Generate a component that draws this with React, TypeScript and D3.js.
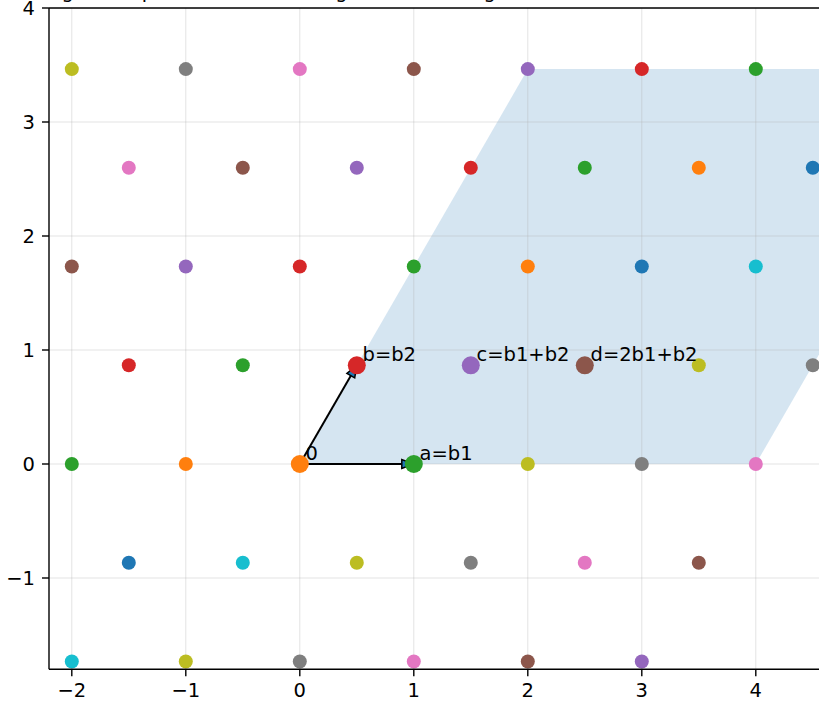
import React from "react";
import { scaleLinear } from "d3";

const tab10 = ["#1f77b4", "#ff7f0e", "#2ca02c", "#d62728", "#9467bd", "#8c564b", "#e377c2", "#7f7f7f", "#bcbd22", "#17becf"];

// lattice basis
const b1 = [1, 0];
const b2 = [0.5, Math.sqrt(3) / 2];

// background lattice points (integer coords in b1, b2) and colour index
const latticeI = [
  -1, 0, 1, 2, 3, 4,
  -1, 0, 1, 2, 3, 4,
  -2, -1, 2, 3, 4,
  -2, -1, 3, 4,
  -3, -2, -1, 0, 1, 2, 3,
  -3, -2, -1, 0, 1, 2, 3,
  -4, -3, -2, -1, 0, 1, 2,
];
const latticeJ = [
  -2, -2, -2, -2, -2, -2,
  -1, -1, -1, -1, -1, -1,
  0, 0, 0, 0, 0,
  1, 1, 1, 1,
  2, 2, 2, 2, 2, 2, 2,
  3, 3, 3, 3, 3, 3, 3,
  4, 4, 4, 4, 4, 4, 4,
];
const pointColor = [
  9, 8, 7, 6, 5, 4,
  0, 9, 8, 7, 6, 5,
  2, 1, 8, 7, 6,
  3, 2, 8, 7,
  5, 4, 3, 2, 1, 0, 9,
  6, 5, 4, 3, 2, 1, 0,
  8, 7, 6, 5, 4, 3, 2,
];

// highlighted points
const specialNames = ["0", "a=b1", "b=b2", "c=b1+b2", "d=2b1+b2"];
const specialI = [0, 1, 0, 1, 2];
const specialJ = [0, 0, 1, 1, 1];
const specialColor = [1, 2, 3, 4, 5];

// shaded cell corners (in b1, b2 coords)
const cellI = [0, 4, 4, 0];
const cellJ = [0, 0, 4, 4];

const xTicks = [-2, -1, 0, 1, 2, 3, 4];
const yTicks = [-1, 0, 1, 2, 3, 4];

const toXY = (i: number, j: number) => [i * b1[0] + j * b2[0], i * b1[1] + j * b2[1]];

const fmt = (v: number) => (v < 0 ? "\u2212" + Math.abs(v) : String(v));

export default function App() {
  const W = 819, H = 705;
  const left = 49, top = 8;
  const unit = 114;
  const x = scaleLinear().domain([-2.2, 6.2]).range([left, left + 8.4 * unit]);
  const y = scaleLinear().domain([-1.8, 4]).range([top + 5.8 * unit, top]);
  const bottom = y(-1.8);
  const right = x(6.2);
  const font = "'DejaVu Sans', sans-serif";
  const fs = 19.5;

  const cellPts = cellI.map((ci, k) => toXY(ci, cellJ[k])).map(([a, b]) => `${x(a)},${y(b)}`).join(" ");

  const arrow = (tx: number, ty: number, key: string) => {
    const x0 = x(0), y0 = y(0), x1 = x(tx), y1 = y(ty);
    const dx = x1 - x0, dy = y1 - y0;
    const len = Math.hypot(dx, dy);
    const ux = dx / len, uy = dy / len;
    const headLen = 12, headW = 4.5;
    const bx = x1 - ux * headLen, by = y1 - uy * headLen;
    const px = -uy, py = ux;
    const head = `${x1},${y1} ${bx + px * headW},${by + py * headW} ${bx - px * headW},${by - py * headW}`;
    return (
      <g key={key}>
        <line x1={x0} y1={y0} x2={bx} y2={by} stroke="#000" strokeWidth={2} />
        <polygon points={head} fill={tab10[0]} stroke="#000" strokeWidth={1.5} strokeLinejoin="miter" />
      </g>
    );
  };

  return (
    <svg width={W} height={H} style={{ position: "fixed", left: 0, top: 0, background: "#fff" }}>
      <defs>
        <clipPath id="plot">
          <rect x={left} y={top} width={right - left} height={bottom - top} />
        </clipPath>
      </defs>
      <text x={42} y={-2} fontFamily={font} fontSize={fs} fill="#000">
        A general plot of the lattice region around origin
      </text>
      <g clipPath="url(#plot)">
        <polygon points={cellPts} fill={tab10[0]} fillOpacity={0.19} />
        {xTicks.map((t) => (
          <line key={"gx" + t} x1={x(t)} x2={x(t)} y1={top} y2={bottom} stroke="#b0b0b0" strokeOpacity={0.35} strokeWidth={1} />
        ))}
        {yTicks.map((t) => (
          <line key={"gy" + t} x1={left} x2={right} y1={y(t)} y2={y(t)} stroke="#b0b0b0" strokeOpacity={0.35} strokeWidth={1} />
        ))}
        {arrow(b1[0], b1[1], "a1")}
        {arrow(b2[0], b2[1], "a2")}
        {latticeI.map((li, k) => {
          const [px, py] = toXY(li, latticeJ[k]);
          return <circle key={"p" + k} cx={x(px)} cy={y(py)} r={7} fill={tab10[pointColor[k]]} />;
        })}
        {specialI.map((si, k) => {
          const [px, py] = toXY(si, specialJ[k]);
          return <circle key={"s" + k} cx={x(px)} cy={y(py)} r={9} fill={tab10[specialColor[k]]} />;
        })}
        {specialI.map((si, k) => {
          const [px, py] = toXY(si, specialJ[k]);
          return (
            <text key={"t" + k} x={x(px + 0.05)} y={y(py + 0.035)} fontFamily={font} fontSize={fs} fill="#000">
              {specialNames[k]}
            </text>
          );
        })}
      </g>
      {/* spines */}
      <line x1={left} x2={left} y1={top} y2={bottom} stroke="#000" strokeWidth={1.4} />
      <line x1={left} x2={right} y1={bottom} y2={bottom} stroke="#000" strokeWidth={1.4} />
      <line x1={left} x2={right} y1={top} y2={top} stroke="#000" strokeWidth={1.4} />
      {xTicks.map((t) => (
        <g key={"xt" + t}>
          <line x1={x(t)} x2={x(t)} y1={bottom} y2={bottom + 7} stroke="#000" strokeWidth={1.4} />
          <text x={x(t)} y={bottom + 28} textAnchor="middle" fontFamily={font} fontSize={fs} fill="#000">
            {fmt(t)}
          </text>
        </g>
      ))}
      {yTicks.map((t) => (
        <g key={"yt" + t}>
          <line x1={left - 7} x2={left} y1={y(t)} y2={y(t)} stroke="#000" strokeWidth={1.4} />
          <text x={left - 14} y={y(t)} dy="0.36em" textAnchor="end" fontFamily={font} fontSize={fs} fill="#000">
            {fmt(t)}
          </text>
        </g>
      ))}
    </svg>
  );
}
